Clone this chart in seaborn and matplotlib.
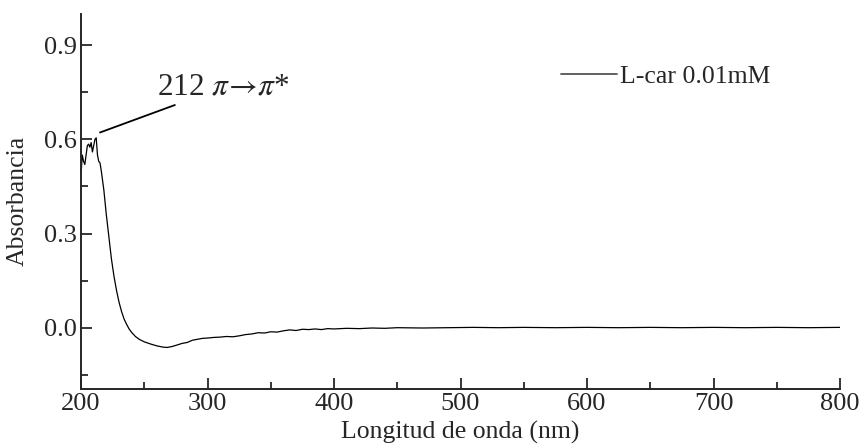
import matplotlib
matplotlib.use("Agg")
import matplotlib.pyplot as plt
import seaborn as sns
import pandas as pd
from matplotlib.ticker import MultipleLocator, FormatStrFormatter

wavelength = [200, 201, 202, 203, 204, 205, 206, 207, 208, 209, 210, 211, 212, 213, 214, 215, 216,
              218, 220, 222, 224, 226, 228, 230, 232, 234, 236, 238, 240, 243, 246, 250, 255, 260,
              265, 268, 272, 276, 280, 284, 288, 292, 296, 300, 305, 310, 315, 320, 325, 330, 335,
              340, 345, 350, 355, 360, 365, 370, 375, 380, 385, 390, 395, 400, 410, 420, 430, 440,
              450, 470, 490, 510, 530, 550, 575, 600, 625, 650, 675, 700, 725, 750, 775, 800]
absorbance = [0.49, 0.55, 0.53, 0.52, 0.55, 0.58, 0.585, 0.575, 0.59, 0.56, 0.58, 0.60, 0.605, 0.55,
              0.53, 0.525, 0.50, 0.44, 0.36, 0.29, 0.22, 0.165, 0.12, 0.082, 0.052, 0.028, 0.011,
              -0.004, -0.015, -0.028, -0.037, -0.045, -0.052, -0.058, -0.062, -0.063, -0.060,
              -0.055, -0.050, -0.047, -0.040, -0.037, -0.034, -0.033, -0.031, -0.030, -0.028,
              -0.029, -0.026, -0.022, -0.020, -0.016, -0.017, -0.013, -0.014, -0.010, -0.007,
              -0.009, -0.005, -0.006, -0.004, -0.006, -0.003, -0.004, -0.002, -0.003, -0.001,
              -0.002, 0.000, -0.001, 0.000, 0.001, 0.000, 0.001, 0.000, 0.001, 0.000, 0.001,
              0.000, 0.001, 0.000, 0.001, 0.000, 0.001]
series_label = "L-car 0.01mM"
peak_label = r"212 $\pi\!\rightarrow\!\pi$*"

df = pd.DataFrame({"Longitud de onda (nm)": wavelength, "Absorbancia": absorbance,
                   "serie": series_label})

sns.set_style("ticks")
plt.rcParams["font.family"] = ["Liberation Serif", "DejaVu Serif"]
plt.rcParams["mathtext.fontset"] = "stix"

fig = plt.figure(figsize=(8.62, 4.47), dpi=100)
ax = fig.add_axes([0.094, 0.130, 0.8805, 0.839])

sns.lineplot(data=df, x="Longitud de onda (nm)", y="Absorbancia", color="black",
             linewidth=0.9, ax=ax, legend=False)

ax.set_xlim(200, 800)
ax.set_ylim(-0.195, 1.0)
ax.xaxis.set_major_locator(MultipleLocator(100))
ax.xaxis.set_minor_locator(MultipleLocator(50))
ax.yaxis.set_major_locator(MultipleLocator(0.3))
ax.yaxis.set_minor_locator(MultipleLocator(0.15))
ax.yaxis.set_major_formatter(FormatStrFormatter("%.1f"))
ax.tick_params(which="major", direction="in", length=8, width=1.3, labelsize=19, pad=3)
ax.tick_params(which="minor", direction="in", length=5, width=1.3)
for s in ["top", "right"]:
    ax.spines[s].set_visible(False)
for s in ["left", "bottom"]:
    ax.spines[s].set_linewidth(1.4)

ax.set_xlabel("Longitud de onda (nm)", fontsize=18.5, labelpad=4)
ax.set_ylabel("Absorbancia", fontsize=18.5, labelpad=11)

ax.annotate(peak_label, xy=(215, 0.622), xytext=(260, 0.72), fontsize=22.5,
            ha="left", va="bottom",
            arrowprops=dict(arrowstyle="-", color="black", lw=1.3, shrinkA=0, shrinkB=0))

ax.plot([], [], color="#555555", linewidth=1.3, label=series_label)
leg = ax.legend(loc="center right", bbox_to_anchor=(0.908, 0.832), frameon=False,
                fontsize=18.5, handlelength=2.15, handletextpad=0.12,
                borderaxespad=0, borderpad=0)

fig.savefig("out.png", dpi=100)
